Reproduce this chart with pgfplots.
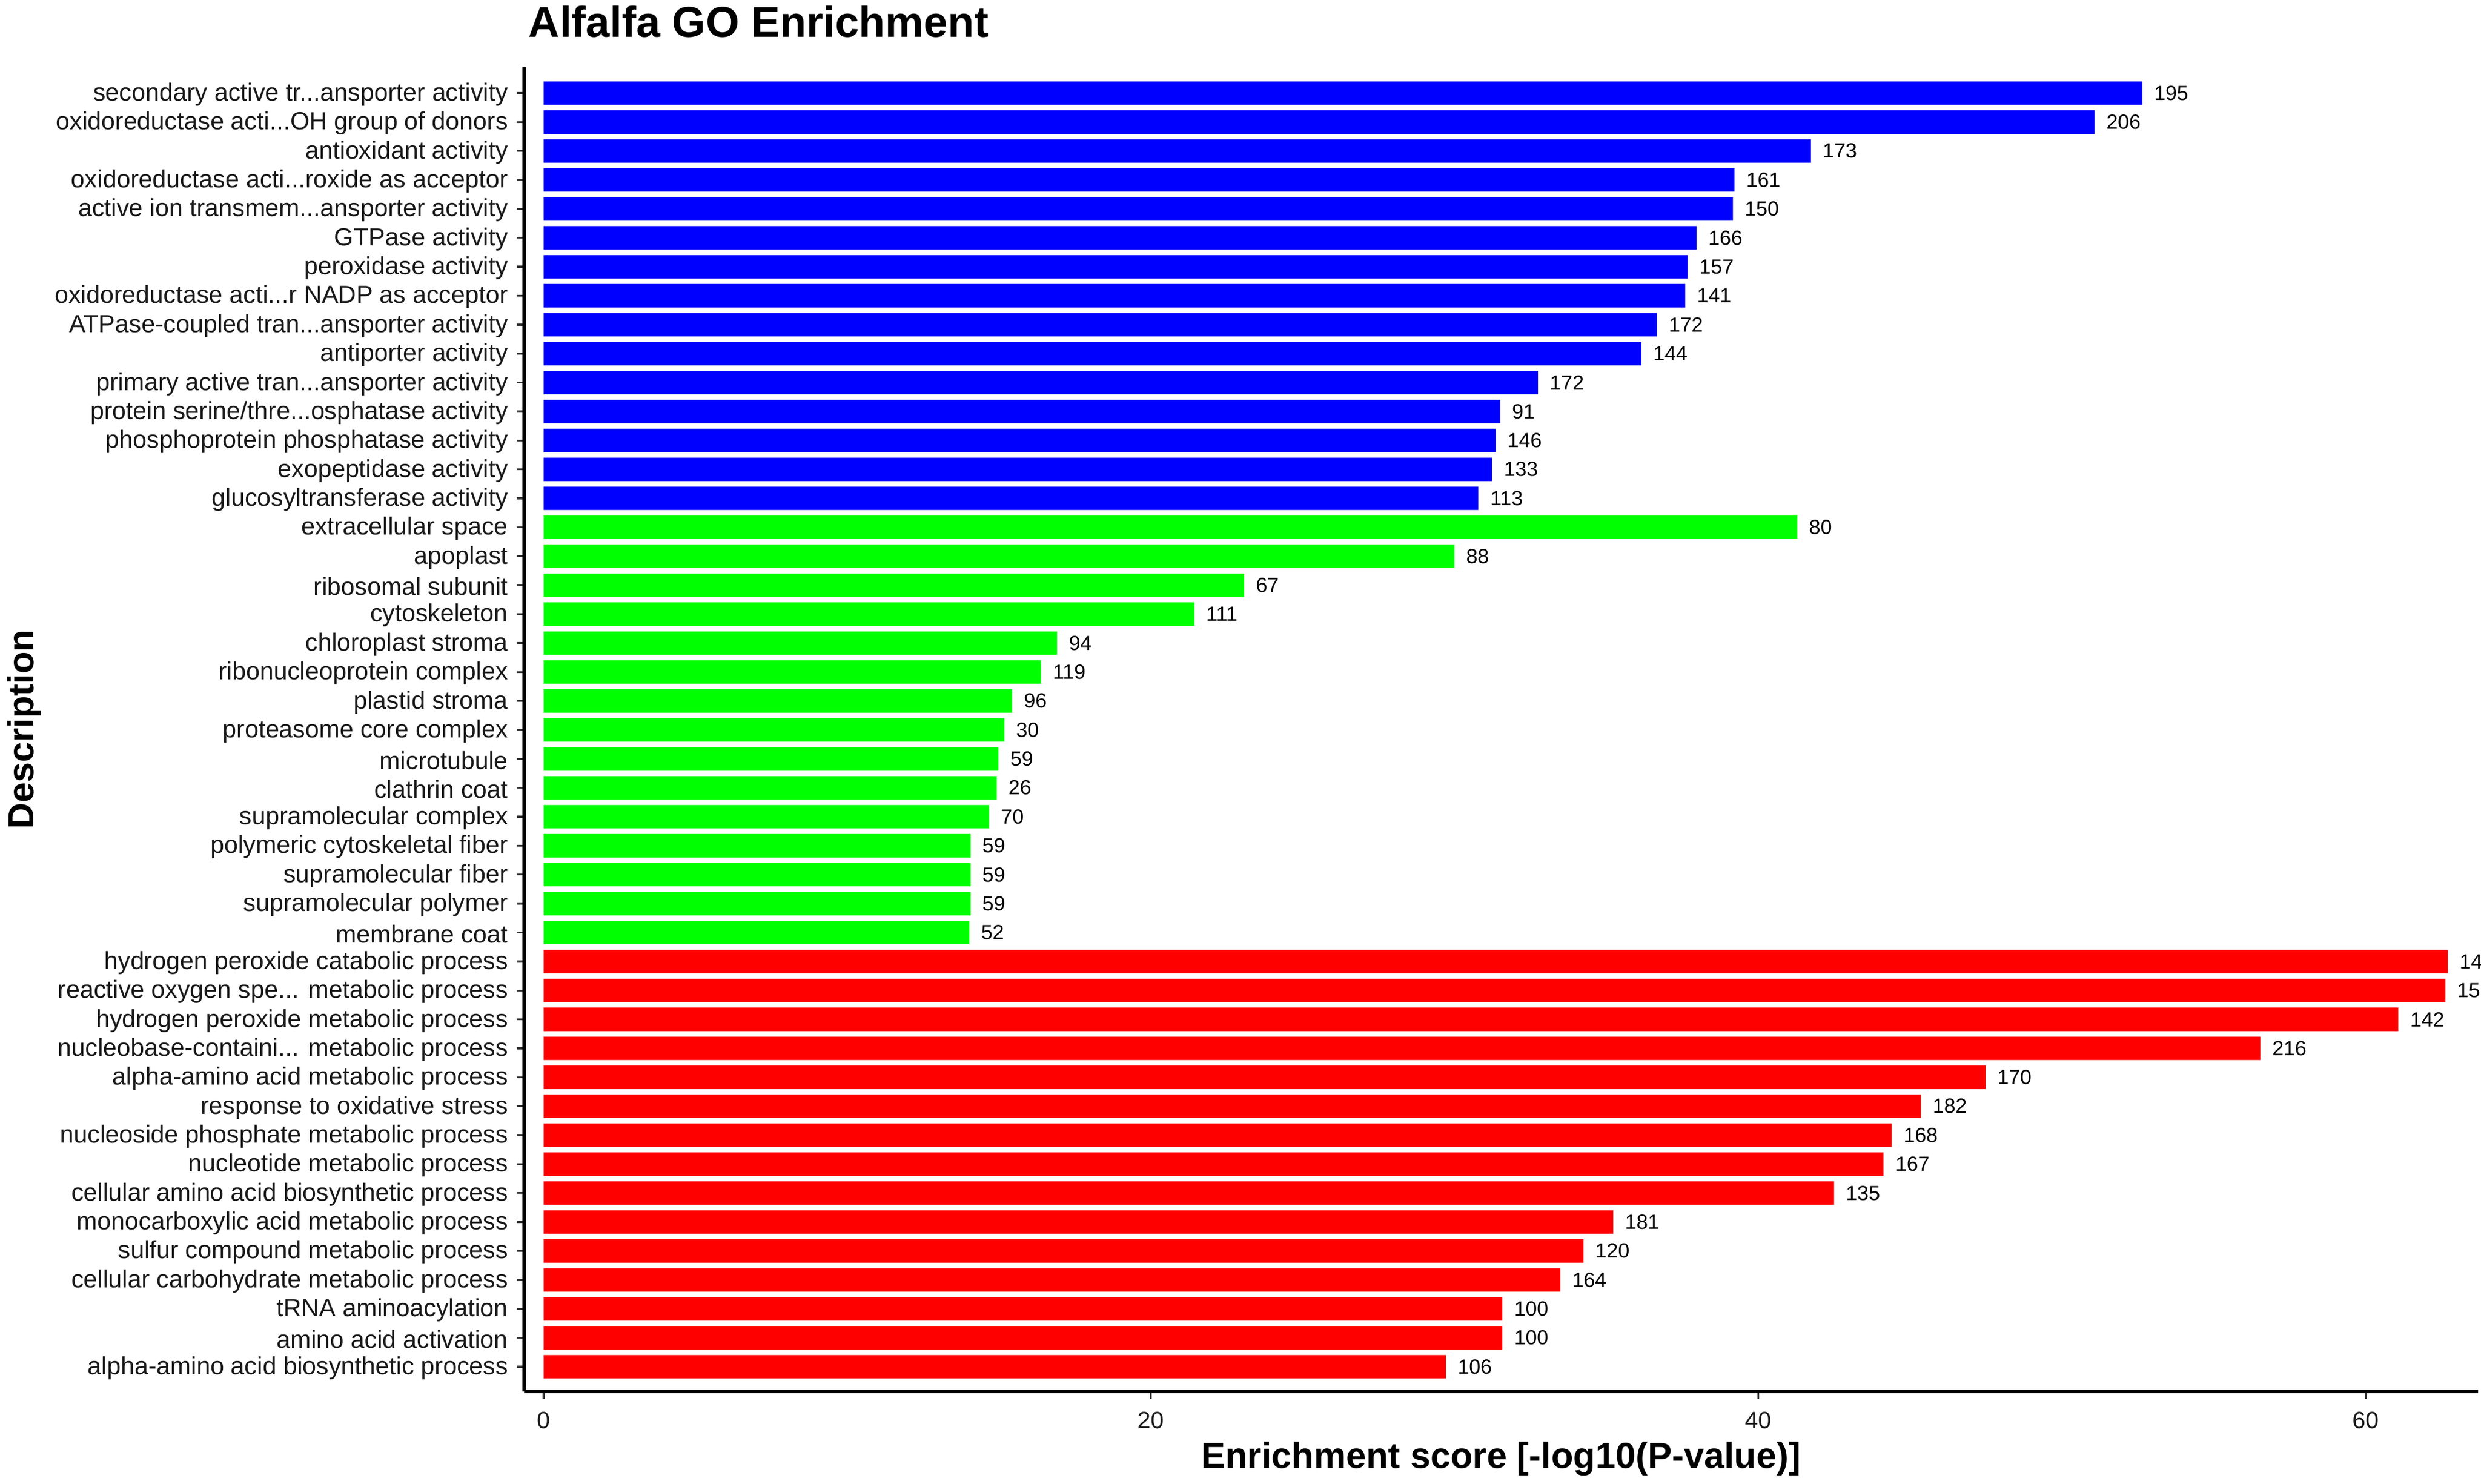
\documentclass[border=0pt]{standalone}
\usepackage{fontspec}
\setmainfont{Liberation Sans}
\usepackage{pgfplots}
\usepackage{pgfplotstable}
\pgfplotsset{compat=1.18}
\definecolor{gblue}{RGB}{0,0,255}
\definecolor{ggreen}{RGB}{0,255,0}
\definecolor{gred}{RGB}{255,0,0}

% y positions: 45 = top row, 1 = bottom row
\pgfplotstableread{
y x lab
45 52.64 195
44 51.07 206
43 41.73 173
42 39.21 161
41 39.16 150
40 37.96 166
39 37.67 157
38 37.59 141
37 36.66 172
36 36.15 144
35 32.74 172
34 31.50 91
33 31.35 146
32 31.23 133
31 30.78 113
}\bluedata

\pgfplotstableread{
y x lab
30 41.28 80
29 29.99 88
28 23.07 67
27 21.43 111
26 16.91 94
25 16.38 119
24 15.43 96
23 15.17 30
22 14.98 59
21 14.92 26
20 14.67 70
19 14.06 59
18 14.06 59
17 14.06 59
16 14.02 52
}\greendata

\pgfplotstableread{
y x lab
15 62.70 14
14 62.62 15
13 61.07 142
12 56.53 216
11 47.48 170
10 45.35 182
9 44.39 168
8 44.12 167
7 42.49 135
6 35.22 181
5 34.24 120
4 33.48 164
3 31.57 100
2 31.57 100
1 29.71 106
}\reddata

\begin{document}
\begin{tikzpicture}[x=1pt,y=1pt]
\useasboundingbox (0,0) rectangle (1151.2,688.53);
\begin{axis}[
  at={(243.2pt,42.93pt)}, anchor=south west,
  width=906.7pt, height=614.4pt, scale only axis,
  xmin=-0.64, xmax=63.7, ymin=0.146, ymax=45.894,
  axis x line*=bottom, axis y line*=left,
  axis line style={line width=1.35pt, black, -},
  tick align=outside,
  major tick length=3.5pt,
  tick style={line width=0.9pt, black!80},
  xtick={0,20,40,60},
  ytick={1,2,3,4,5,6,7,8,9,10,11,12,13,14,15,16,17,18,19,20,21,22,23,24,25,26,27,28,29,30,31,32,33,34,35,36,37,38,39,40,41,42,43,44,45},
  yticklabels={
    alpha-amino acid biosynthetic process,
    amino acid activation,
    tRNA aminoacylation,
    cellular carbohydrate metabolic process,
    sulfur compound metabolic process,
    monocarboxylic acid metabolic process,
    cellular amino acid biosynthetic process,
    nucleotide metabolic process,
    nucleoside phosphate metabolic process,
    response to oxidative stress,
    alpha-amino acid metabolic process,
    nucleobase-containi.{}.{}. metabolic process,
    hydrogen peroxide metabolic process,
    reactive oxygen spe.{}.{}. metabolic process,
    hydrogen peroxide catabolic process,
    membrane coat,
    supramolecular polymer,
    supramolecular fiber,
    polymeric cytoskeletal fiber,
    supramolecular complex,
    clathrin coat,
    microtubule,
    proteasome core complex,
    plastid stroma,
    ribonucleoprotein complex,
    chloroplast stroma,
    cytoskeleton,
    ribosomal subunit,
    apoplast,
    extracellular space,
    glucosyltransferase activity,
    exopeptidase activity,
    phosphoprotein phosphatase activity,
    protein serine/thre.{}.{}.osphatase activity,
    primary active tran.{}.{}.ansporter activity,
    antiporter activity,
    ATPase-coupled tran.{}.{}.ansporter activity,
    oxidoreductase acti.{}.{}.r NADP as acceptor,
    peroxidase activity,
    GTPase activity,
    active ion transmem.{}.{}.ansporter activity,
    oxidoreductase acti.{}.{}.roxide as acceptor,
    antioxidant activity,
    oxidoreductase acti.{}.{}.OH group of donors,
    secondary active tr.{}.{}.ansporter activity
  },
  /pgf/number format/assume math mode=true,
  xticklabel style={font=\fontsize{11}{13}\selectfont, text=black!90, anchor=north, inner sep=0pt, yshift=-5.8pt},
  yticklabel style={font=\fontsize{11.5}{13}\selectfont, text=black!90, anchor=east, inner sep=0pt, xshift=-3.8pt, yshift=-0.6pt},
  clip=false,
  nodes near coords,
  point meta=explicit symbolic,
  every node near coord/.append style={font=\fontsize{9.5}{11}\selectfont, anchor=west, inner sep=0pt, xshift=5.3pt, text=black},
]
\addplot[xbar, bar width=0.81, bar shift=0pt, fill=gblue, draw=none] table[x=x, y=y, meta=lab]{\bluedata};
\addplot[xbar, bar width=0.81, bar shift=0pt, fill=ggreen, draw=none] table[x=x, y=y, meta=lab]{\greendata};
\addplot[xbar, bar width=0.81, bar shift=0pt, fill=gred, draw=none] table[x=x, y=y, meta=lab]{\reddata};
\end{axis}
\node[anchor=base west, inner sep=0pt, font=\fontsize{20}{24}\selectfont\bfseries] at (245.1,671.2) {Alfalfa GO Enrichment};
\node[anchor=base, inner sep=0pt, font=\fontsize{16.8}{20}\selectfont\bfseries] at (696.5,7.2) {Enrichment score [-log10(P-value)]};
\node[anchor=base, rotate=90, inner sep=0pt, font=\fontsize{16.8}{20}\selectfont\bfseries] at (15.5,350.1) {Description};
\end{tikzpicture}
\end{document}
